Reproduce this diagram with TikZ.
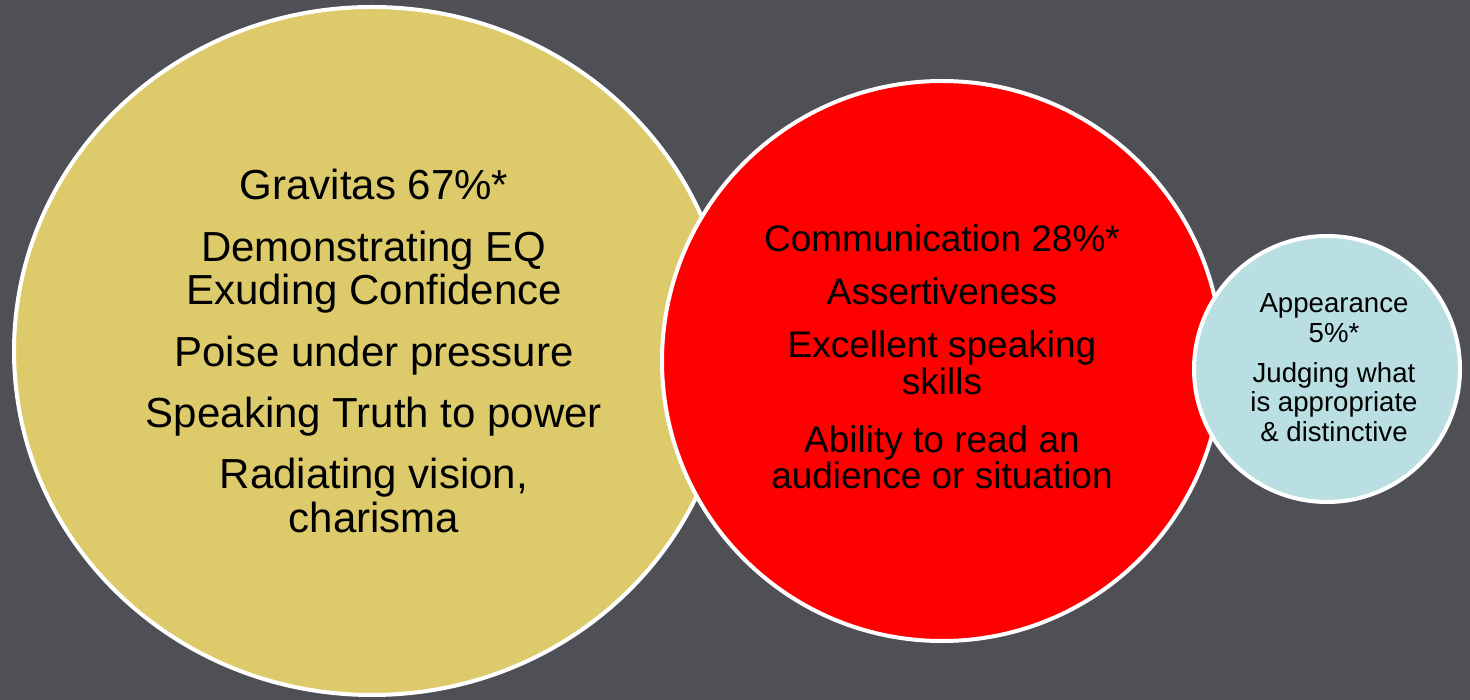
\documentclass[tikz,border=0pt]{standalone}
\usepackage{fontspec}
\setmainfont{Liberation Sans}
\usetikzlibrary{shapes.geometric}
\definecolor{bgc}{HTML}{4F5055}
\definecolor{yelc}{HTML}{DDCB6B}
\definecolor{redc}{HTML}{FF0000}
\definecolor{bluc}{HTML}{BADFE3}
\tikzset{
  bubble/.style={draw=white, line width=4pt, inner sep=0pt},
  ytext/.style={anchor=base, inner sep=0pt, font=\fontsize{42}{43}\selectfont},
  rtext/.style={anchor=base, inner sep=0pt, font=\fontsize{37}{37}\selectfont},
  btext/.style={anchor=base, inner sep=0pt, font=\fontsize{27.6}{29}\selectfont}
}
\begin{document}
\begin{tikzpicture}[x=1pt,y=-1pt]
\fill[bgc] (0,0) rectangle (1470,700);
\useasboundingbox (0,0) rectangle (1470,700);
% bubbles
\node[bubble, ellipse, fill=yelc, minimum width=716pt, minimum height=688pt] (gra) at (372,351) {};
\node[bubble, circle, fill=redc, minimum size=560pt] (com) at (942,361) {};
\node[bubble, circle, fill=bluc, minimum size=266pt] (app) at (1327,369) {};
% gravitas text
\node[ytext] (g1) at (374,200) {Gravitas 67\%*};
\node[ytext] (g2) at (374,262) {Demonstrating EQ};
\node[ytext] (g3) at (374,305) {Exuding Confidence};
\node[ytext] (g4) at (374,367) {Poise under pressure};
\node[ytext] (g5) at (374,428) {Speaking Truth to power};
\node[ytext] (g6) at (374,488) {Radiating vision,};
\node[ytext] (g7) at (374,532) {charisma};
% communication text
\node[rtext] (c1) at (942,252) {Communication 28\%*};
\node[rtext] (c2) at (942,305) {Assertiveness};
\node[rtext] (c3) at (942,358) {Excellent speaking};
\node[rtext] (c4) at (942,395) {skills};
\node[rtext] (c5) at (942,452) {Ability to read an};
\node[rtext] (c6) at (942,488) {audience or situation};
% appearance text
\node[btext] (a1) at (1334,313) {Appearance};
\node[btext] (a2) at (1334,343) {5\%*};
\node[btext] (a3) at (1334,383) {Judging what};
\node[btext] (a4) at (1334,412) {is appropriate};
\node[btext] (a5) at (1334,441) {\& distinctive};
\end{tikzpicture}
\end{document}
